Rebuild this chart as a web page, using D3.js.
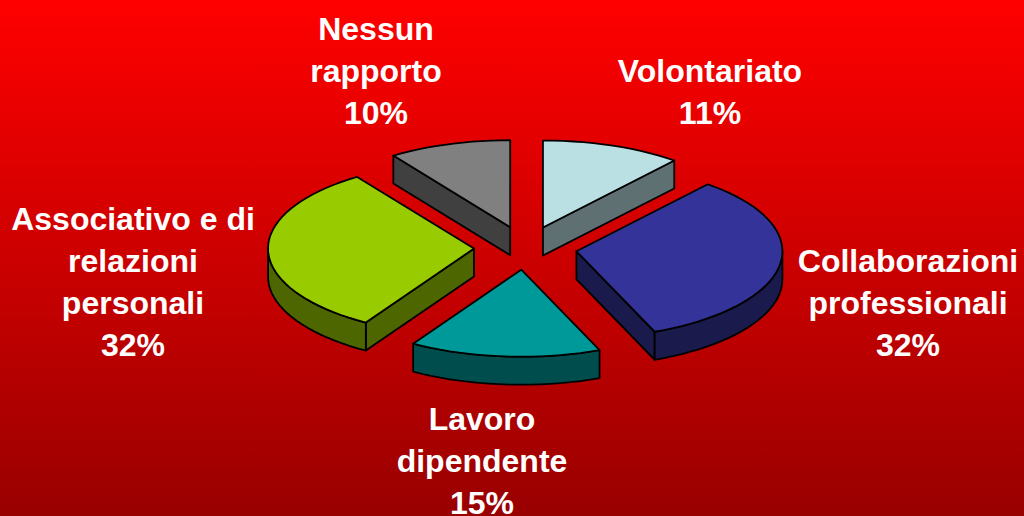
<!DOCTYPE html>
<html>
<head>
<meta charset="utf-8">
<style>
  html, body { margin: 0; padding: 0; background: #990000; overflow: hidden; }
  text { font-family: "Liberation Sans", Arial, sans-serif; font-weight: bold; fill: #fff; }
</style>
<script src="https://cdn.jsdelivr.net/npm/d3@7"></script>
</head>
<body>
<div id="chart"></div>
<script>
// Chart data, clockwise from twelve o'clock
var categories = ["Volontariato", "Collaborazioni professionali", "Lavoro dipendente", "Associativo e di relazioni personali", "Nessun rapporto"];
var values = [11, 32.8, 15, 31.6, 9.6];
var percentLabels = ["11%", "32%", "15%", "32%", "10%"];
var colors = ["#BBE0E3", "#333399", "#009999", "#99CC00", "#808080"];

// Label lines, as they wrap in the picture
var labelLines = [
  ["Volontariato"],
  ["Collaborazioni", "professionali"],
  ["Lavoro", "dipendente"],
  ["Associativo e di", "relazioni", "personali"],
  ["Nessun", "rapporto"]
];
// Position of each label: centre x, first baseline
var labelX = [710, 908, 482, 133, 376];
var labelY = [82, 272, 429.5, 230, 40];

var w = 1024;
var h = 516;
var cx = 525.5;
var cy = 248;
var rx = 206;
var ry = 87;
var depth = 28;
var explode = 0.25;
var lineHeight = 42;

var svg = d3
  .select("#chart")
  .append("svg")
  .attr("width", w)
  .attr("height", h)
  .style("display", "block");

// Background gradient
var grad = svg
  .append("defs")
  .append("linearGradient")
  .attr("id", "bg")
  .attr("x1", 0)
  .attr("y1", 0)
  .attr("x2", 0)
  .attr("y2", 1);
grad.append("stop").attr("offset", 0).attr("stop-color", "#FF0000");
grad.append("stop").attr("offset", 1).attr("stop-color", "#990000");

svg.append("rect").attr("width", w).attr("height", h).attr("fill", "url(#bg)");

// Tilted pie: unit circle coordinates mapped to the ellipse
var xScale = d3.scaleLinear().domain([-1, 1]).range([cx - rx, cx + rx]);
var yScale = d3.scaleLinear().domain([-1, 1]).range([cy - ry, cy + ry]);

var pie = d3
  .pie()
  .sort(null)
  .value(function (d) {
    return d;
  });

var line = d3.line();

function pt(d, a, r, drop) {
  var mid = (d.startAngle + d.endAngle) / 2;
  return [
    xScale(explode * Math.sin(mid) + r * Math.sin(a)),
    yScale(-explode * Math.cos(mid) - r * Math.cos(a)) + (drop || 0)
  ];
}

// Points along the rim between two angles
function rim(d, a0, a1, drop) {
  var n = Math.max(2, Math.ceil((a1 - a0) / 0.05));
  return d3.range(n + 1).map(function (i) {
    return pt(d, a0 + ((a1 - a0) * i) / n, 1, drop);
  });
}

function darker(c) {
  var rgb = d3.rgb(c);
  return d3.rgb(rgb.r / 2, rgb.g / 2, rgb.b / 2).formatHex();
}

function addShape(g, points, fill) {
  g.append("path")
    .attr("d", line(points) + "Z")
    .attr("fill", fill)
    .attr("stroke", "#000")
    .attr("stroke-width", 1.8)
    .attr("stroke-linejoin", "round");
}

var slices = svg
  .selectAll("g.slice")
  .data(pie(values))
  .enter()
  .append("g")
  .attr("class", "slice");

slices.each(function (d, i) {
  var g = d3.select(this);
  var side = darker(colors[i]);
  var a0 = d.startAngle;
  var a1 = d.endAngle;

  // Cut faces that look towards the viewer
  if (Math.sin(a1) > 0) {
    addShape(g, [pt(d, 0, 0), pt(d, a1, 1), pt(d, a1, 1, depth), pt(d, 0, 0, depth)], side);
  }
  if (Math.sin(a0) < 0) {
    addShape(g, [pt(d, 0, 0), pt(d, a0, 1), pt(d, a0, 1, depth), pt(d, 0, 0, depth)], side);
  }

  // Outer wall, front half of the ellipse only
  var from = Math.max(a0, Math.PI / 2);
  var to = Math.min(a1, (Math.PI * 3) / 2);
  if (to > from) {
    addShape(g, rim(d, from, to, 0).concat(rim(d, from, to, depth).reverse()), side);
  }

  // Top face
  addShape(g, [pt(d, 0, 0)].concat(rim(d, a0, a1, 0)), colors[i]);
});

// Labels
var labels = svg
  .selectAll("text.label")
  .data(categories)
  .enter()
  .append("text")
  .attr("class", "label")
  .attr("text-anchor", "middle")
  .attr("font-size", 32);

labels.each(function (d, i) {
  var t = d3.select(this);
  labelLines[i].concat(percentLabels[i]).forEach(function (s, j) {
    t.append("tspan")
      .attr("x", labelX[i])
      .attr("y", labelY[i] + j * lineHeight)
      .text(s);
  });
});
</script>
</body>
</html>
